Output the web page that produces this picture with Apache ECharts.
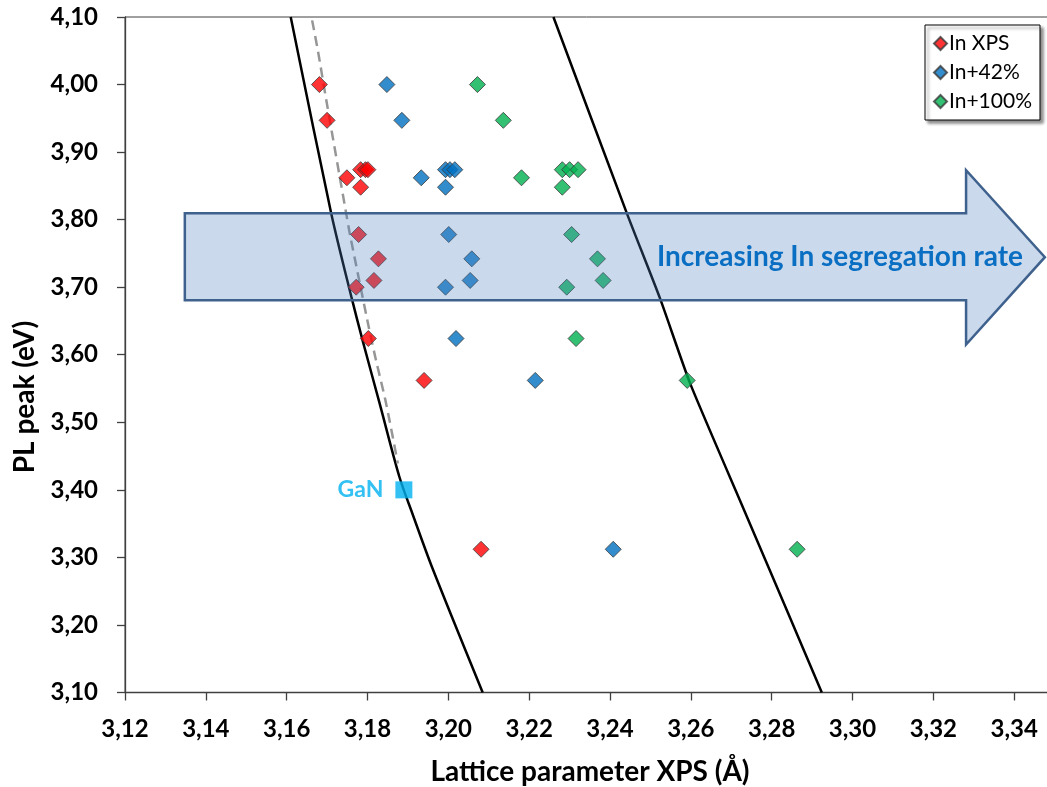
<!DOCTYPE html>
<html>
<head>
<meta charset="utf-8">
<script src="https://cdn.jsdelivr.net/npm/echarts@6/dist/echarts.min.js"></script>
<style>
html,body{margin:0;padding:0;background:#fff;}
#main{width:1047px;height:787px;}
</style>
</head>
<body>
<div id="main"></div>
<script>
// ---- data ----
const seriesNames = ['In XPS', 'In+42%', 'In+100%'];
const inXps = [[3.1681,4.000],[3.1700,3.947],[3.1749,3.862],[3.1783,3.874],[3.1795,3.874],[3.1801,3.874],[3.1783,3.848],[3.1778,3.778],[3.1827,3.742],[3.1816,3.710],[3.1772,3.700],[3.1802,3.624],[3.1940,3.562],[3.2081,3.312]];
const in42 = [[3.1848,4.000],[3.1885,3.947],[3.1933,3.862],[3.1993,3.874],[3.2004,3.874],[3.2016,3.874],[3.1993,3.848],[3.2001,3.778],[3.2058,3.742],[3.2054,3.710],[3.1993,3.700],[3.2019,3.624],[3.2215,3.562],[3.2408,3.312]];
const in100 = [[3.2072,4.000],[3.2136,3.947],[3.2181,3.862],[3.2282,3.874],[3.2300,3.874],[3.2321,3.874],[3.2282,3.848],[3.2305,3.778],[3.2369,3.742],[3.2383,3.710],[3.2293,3.700],[3.2316,3.624],[3.2591,3.562],[3.2863,3.312]];
const gan = [[3.189,3.40]];
const leftCurve = [[3.1610,4.10],[3.1710,3.810],[3.1760,3.686],[3.1788,3.621],[3.1830,3.528],[3.1879,3.419],[3.1911,3.365],[3.1960,3.285],[3.2085,3.10]];
const rightCurve = [[3.2260,4.10],[3.2442,3.809],[3.2524,3.683],[3.2598,3.558],[3.2729,3.374],[3.2841,3.217],[3.2924,3.10]];
const dashedCurve = [[3.1663,4.095],[3.1677,4.051],[3.1698,3.977],[3.1747,3.810],[3.1756,3.780],[3.1801,3.647],[3.1821,3.592],[3.1846,3.528],[3.1875,3.439]];
const xTicks = {min:3.12, max:3.36, interval:0.02};
const yTicks = {min:3.10, max:4.10, interval:0.10};
const arrowText = 'Increasing In segregation rate';
// arrow annotation in data coordinates
const arrow = {left:3.1348, headBase:3.3281, tip:3.3476, bodyTop:3.8096, bodyBottom:3.6807, headTop:3.8733, headBottom:3.6150, tipY:3.7444, textX:3.2969, textY:3.7444};

const FONT = 'Lato, "Open Sans", sans-serif';
const fmt = v => v.toFixed(2).replace('.', ',');
const diamondStyle = c => ({color:c, borderColor:'#3a3a3a', borderWidth:1});

const chart = echarts.init(document.getElementById('main'), null, {renderer:'canvas'});
chart.setOption({
  animation:false,
  backgroundColor:'#fff',
  grid:{left:125, top:17, width:970, bottom:94.5, outerBoundsMode:'none', containLabel:false, show:true, borderColor:'#404040', borderWidth:1, backgroundColor:'transparent'},
  xAxis:{
    type:'value', min:xTicks.min, max:xTicks.max, interval:xTicks.interval,
    axisLine:{show:true, onZero:false, lineStyle:{color:'#404040', width:1.3}},
    axisTick:{show:true, inside:false, length:8, lineStyle:{color:'#404040', width:1.3}},
    splitLine:{show:false},
    axisLabel:{formatter:fmt, margin:25, fontFamily:FONT, fontWeight:'bold', fontSize:24, color:'#000'}
  },
  yAxis:{
    type:'value', min:yTicks.min, max:yTicks.max, interval:yTicks.interval,
    axisLine:{show:true, onZero:false, lineStyle:{color:'#404040', width:1.3}},
    axisTick:{show:true, inside:false, length:8, lineStyle:{color:'#404040', width:1.3}},
    splitLine:{show:false},
    axisLabel:{formatter:fmt, margin:27, fontFamily:FONT, fontWeight:'bold', fontSize:24, color:'#000'}
  },
  legend:{
    data:seriesNames, orient:'vertical', left:925, top:25,
    padding:[8,8,8,8], itemGap:8, itemWidth:13, itemHeight:13,
    backgroundColor:'#fff', borderColor:'#000', borderWidth:1,
    shadowColor:'rgba(0,0,0,0.45)', shadowBlur:3, shadowOffsetX:3, shadowOffsetY:3,
    textStyle:{fontFamily:FONT, fontSize:21, color:'#000', padding:[0,0,0,-3]}
  },
  graphic:[
    {type:'text', x:590, y:772, style:{text:'Lattice parameter XPS (Å)', font:'bold 28px '+FONT, fill:'#000', textAlign:'center', textVerticalAlign:'middle'}},
    {type:'text', x:25, y:397, rotation:Math.PI/2, style:{text:'PL peak (eV)', font:'bold 28px '+FONT, fill:'#000', textAlign:'center', textVerticalAlign:'middle'}}
  ],
  series:[
    {name:'leftCurve', type:'line', data:leftCurve, smooth:0.3, showSymbol:false, symbol:'none', lineStyle:{color:'#000', width:2.5}, z:2, silent:true},
    {name:'rightCurve', type:'line', data:rightCurve, smooth:0.2, showSymbol:false, symbol:'none', lineStyle:{color:'#000', width:2.5}, z:2, silent:true},
    {name:'dashedCurve', type:'line', data:dashedCurve, smooth:0.3, showSymbol:false, symbol:'none', lineStyle:{color:'#969696', width:2.5, type:[10,6]}, z:2, silent:true},
    {name:seriesNames[0], type:'scatter', data:inXps, symbol:'diamond', symbolSize:16, itemStyle:diamondStyle('#ff0000'), z:3},
    {name:seriesNames[1], type:'scatter', data:in42, symbol:'diamond', symbolSize:16, itemStyle:diamondStyle('#0070c0'), z:3},
    {name:seriesNames[2], type:'scatter', data:in100, symbol:'diamond', symbolSize:16, itemStyle:diamondStyle('#00b050'), z:3},
    {name:'GaN', type:'scatter', data:gan, symbol:'rect', symbolSize:17, itemStyle:{color:'#00b0f0'}, z:3,
      label:{show:true, position:'left', distance:12, formatter:'GaN', color:'#00b0f0', fontFamily:FONT, fontWeight:'bold', fontSize:23}},
    {name:'arrow', type:'custom', clip:false, z:5, silent:true,
      data:[[arrow.textX, arrow.textY]],
      renderItem:function(params, api){
        const P = (x,y) => api.coord([x,y]);
        const pts = [P(arrow.left,arrow.bodyTop), P(arrow.headBase,arrow.bodyTop), P(arrow.headBase,arrow.headTop), P(arrow.tip,arrow.tipY),
                     P(arrow.headBase,arrow.headBottom), P(arrow.headBase,arrow.bodyBottom), P(arrow.left,arrow.bodyBottom)];
        const t = P(arrow.textX, arrow.textY);
        return {type:'group', children:[
          {type:'polygon', shape:{points:pts}, style:{fill:'rgba(79,129,189,0.3)', stroke:'#3f618e', lineWidth:2.5}},
          {type:'text', x:t[0], y:t[1], style:{text:arrowText, font:'bold 28px '+FONT, fill:'#0a6fc2', textAlign:'center', textVerticalAlign:'middle'}}
        ]};
      }
    }
  ]
});
</script>
</body>
</html>
